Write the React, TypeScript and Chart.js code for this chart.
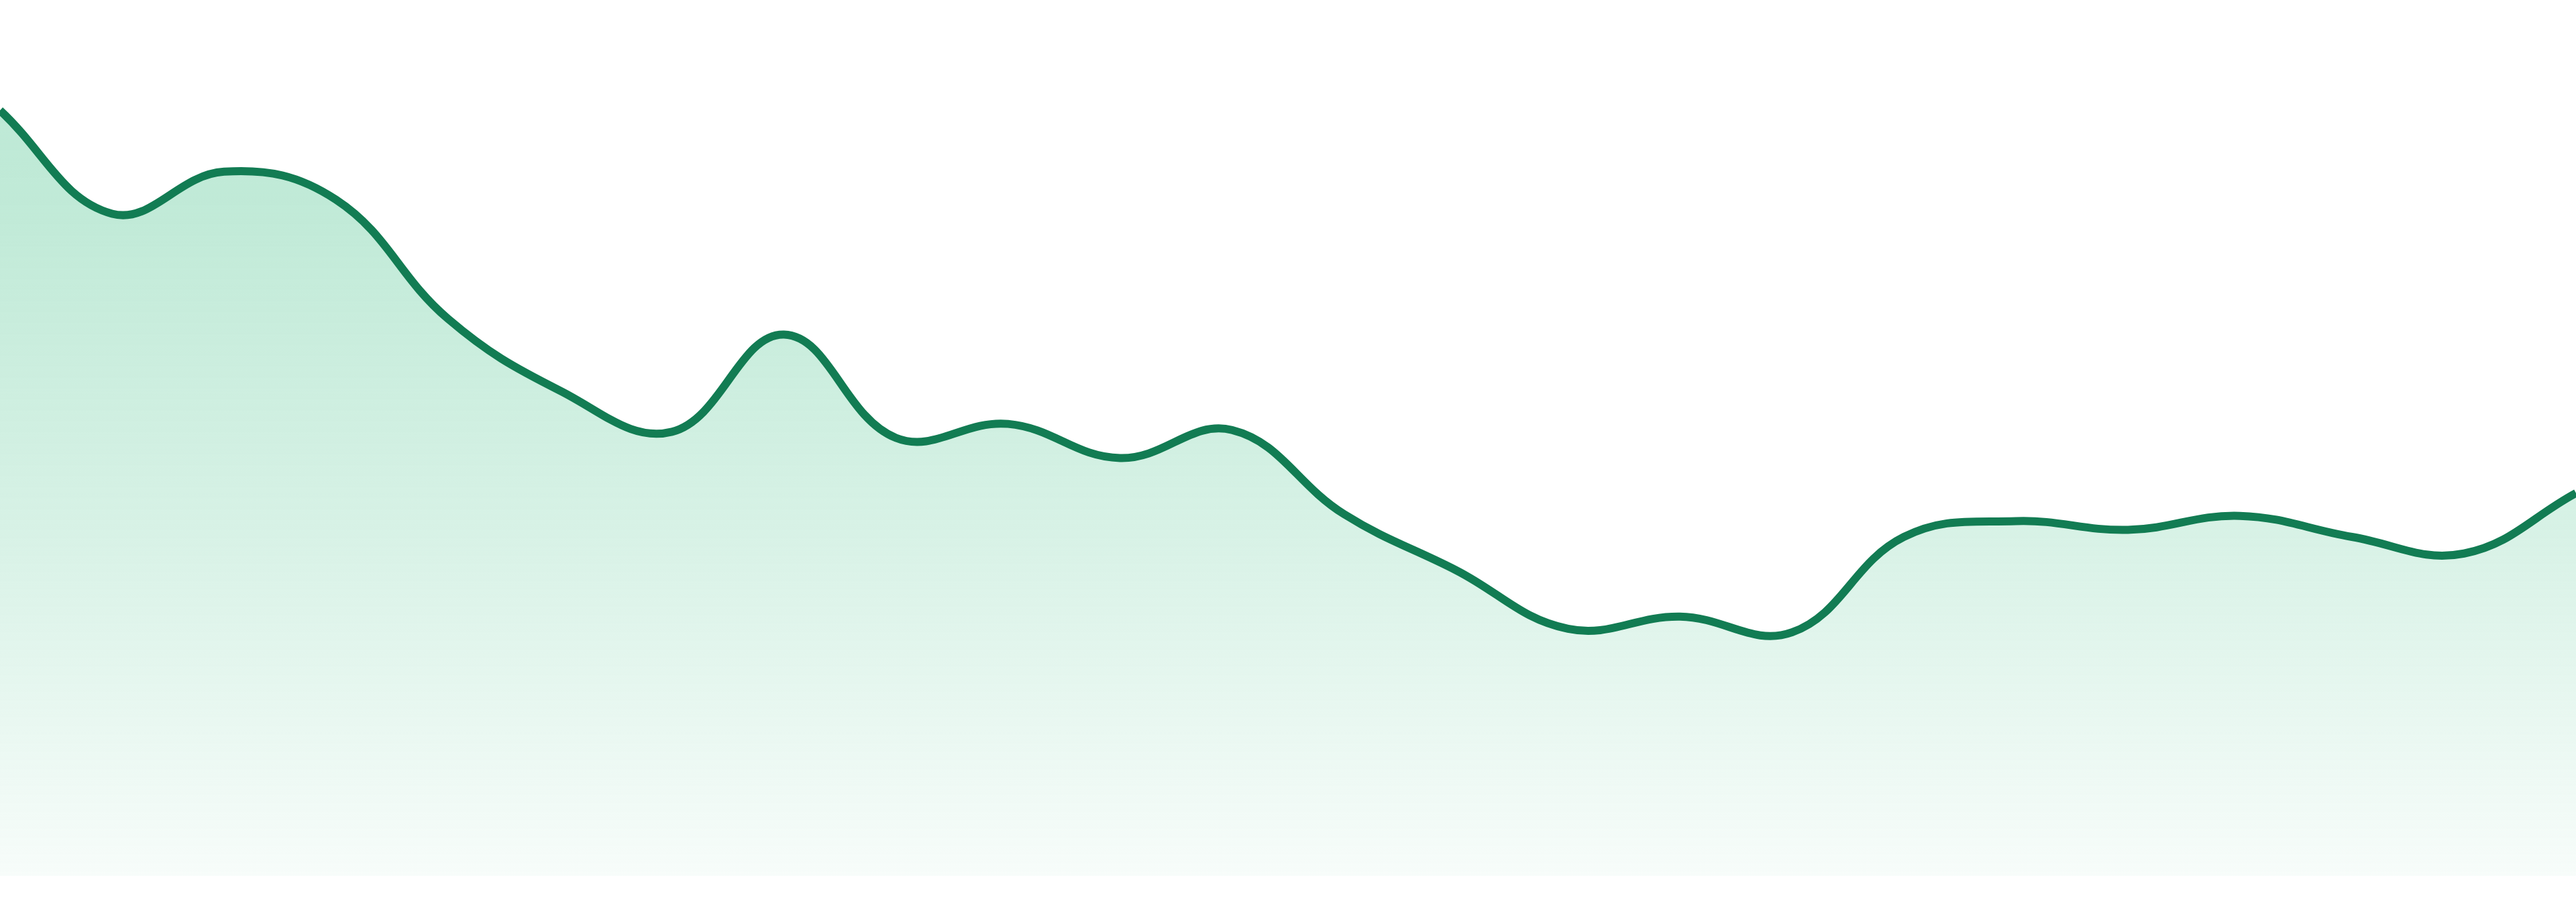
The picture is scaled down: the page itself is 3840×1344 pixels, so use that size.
import React, { useRef, useEffect } from 'react';
import Chart from 'chart.js/auto';

// 24 hourly samples, y axis runs 0..100
const hours = [
    '00:00', '01:00', '02:00', '03:00', '04:00', '05:00', '06:00', '07:00',
    '08:00', '09:00', '10:00', '11:00', '12:00', '13:00', '14:00', '15:00',
    '16:00', '17:00', '18:00', '19:00', '20:00', '21:00', '22:00', '23:00',
];
const values = [
    87.4, 75.6, 80.4, 77.2, 63.6, 55.4, 50.7, 61.8,
    50.0, 51.6, 47.7, 50.9, 41.3, 34.9, 28.2, 29.6,
    27.8, 38.7, 40.5, 39.5, 41.1, 38.7, 36.8, 43.7,
];
const yRange = [0, 100];

const AreaTrend: React.FC = () => {
    const chartRef = useRef<HTMLCanvasElement>(null);
    const chartInstanceRef = useRef<Chart | null>(null);

    useEffect(() => {
        if (!chartRef.current) return;
        const ctx = chartRef.current.getContext('2d');
        if (!ctx) return;
        if (chartInstanceRef.current) chartInstanceRef.current.destroy();

        chartInstanceRef.current = new Chart(ctx, {
            type: 'line',
            data: {
                labels: hours,
                datasets: [{
                    label: 'Trend',
                    data: values,
                    borderColor: '#127c53',
                    borderWidth: 12,
                    tension: 0.4,
                    pointRadius: 0,
                    pointHoverRadius: 0,
                    fill: 'origin',
                    // mint fade from the top of the plot down to almost white
                    backgroundColor: (context: any) => {
                        const area = context.chart.chartArea;
                        if (!area) return 'rgba(55, 188, 128, 0.2)';
                        const g = context.chart.ctx.createLinearGradient(0, area.top, 0, area.bottom);
                        g.addColorStop(0, 'rgba(55, 188, 128, 0.34)');
                        g.addColorStop(0.25, 'rgba(55, 188, 128, 0.31)');
                        g.addColorStop(0.6, 'rgba(55, 188, 128, 0.2)');
                        g.addColorStop(1, 'rgba(55, 188, 128, 0.04)');
                        return g;
                    },
                }]
            },
            options: {
                responsive: true,
                maintainAspectRatio: false,
                animation: false,
                layout: { padding: { left: 0, right: 0, top: 0, bottom: 39 } },
                plugins: {
                    legend: { display: false },
                    tooltip: { enabled: false },
                },
                scales: {
                    x: { display: false, offset: false },
                    y: { display: false, min: yRange[0], max: yRange[1] }
                }
            }
        });

        return () => {
            if (chartInstanceRef.current) chartInstanceRef.current.destroy();
        };
    }, []);

    return (
        <div style={{ position: 'absolute', left: 0, top: 0, width: 3840, height: 1344, background: '#fff' }}>
            <canvas ref={chartRef}></canvas>
        </div>
    );
};

export default function App() {
    return <AreaTrend />;
}
